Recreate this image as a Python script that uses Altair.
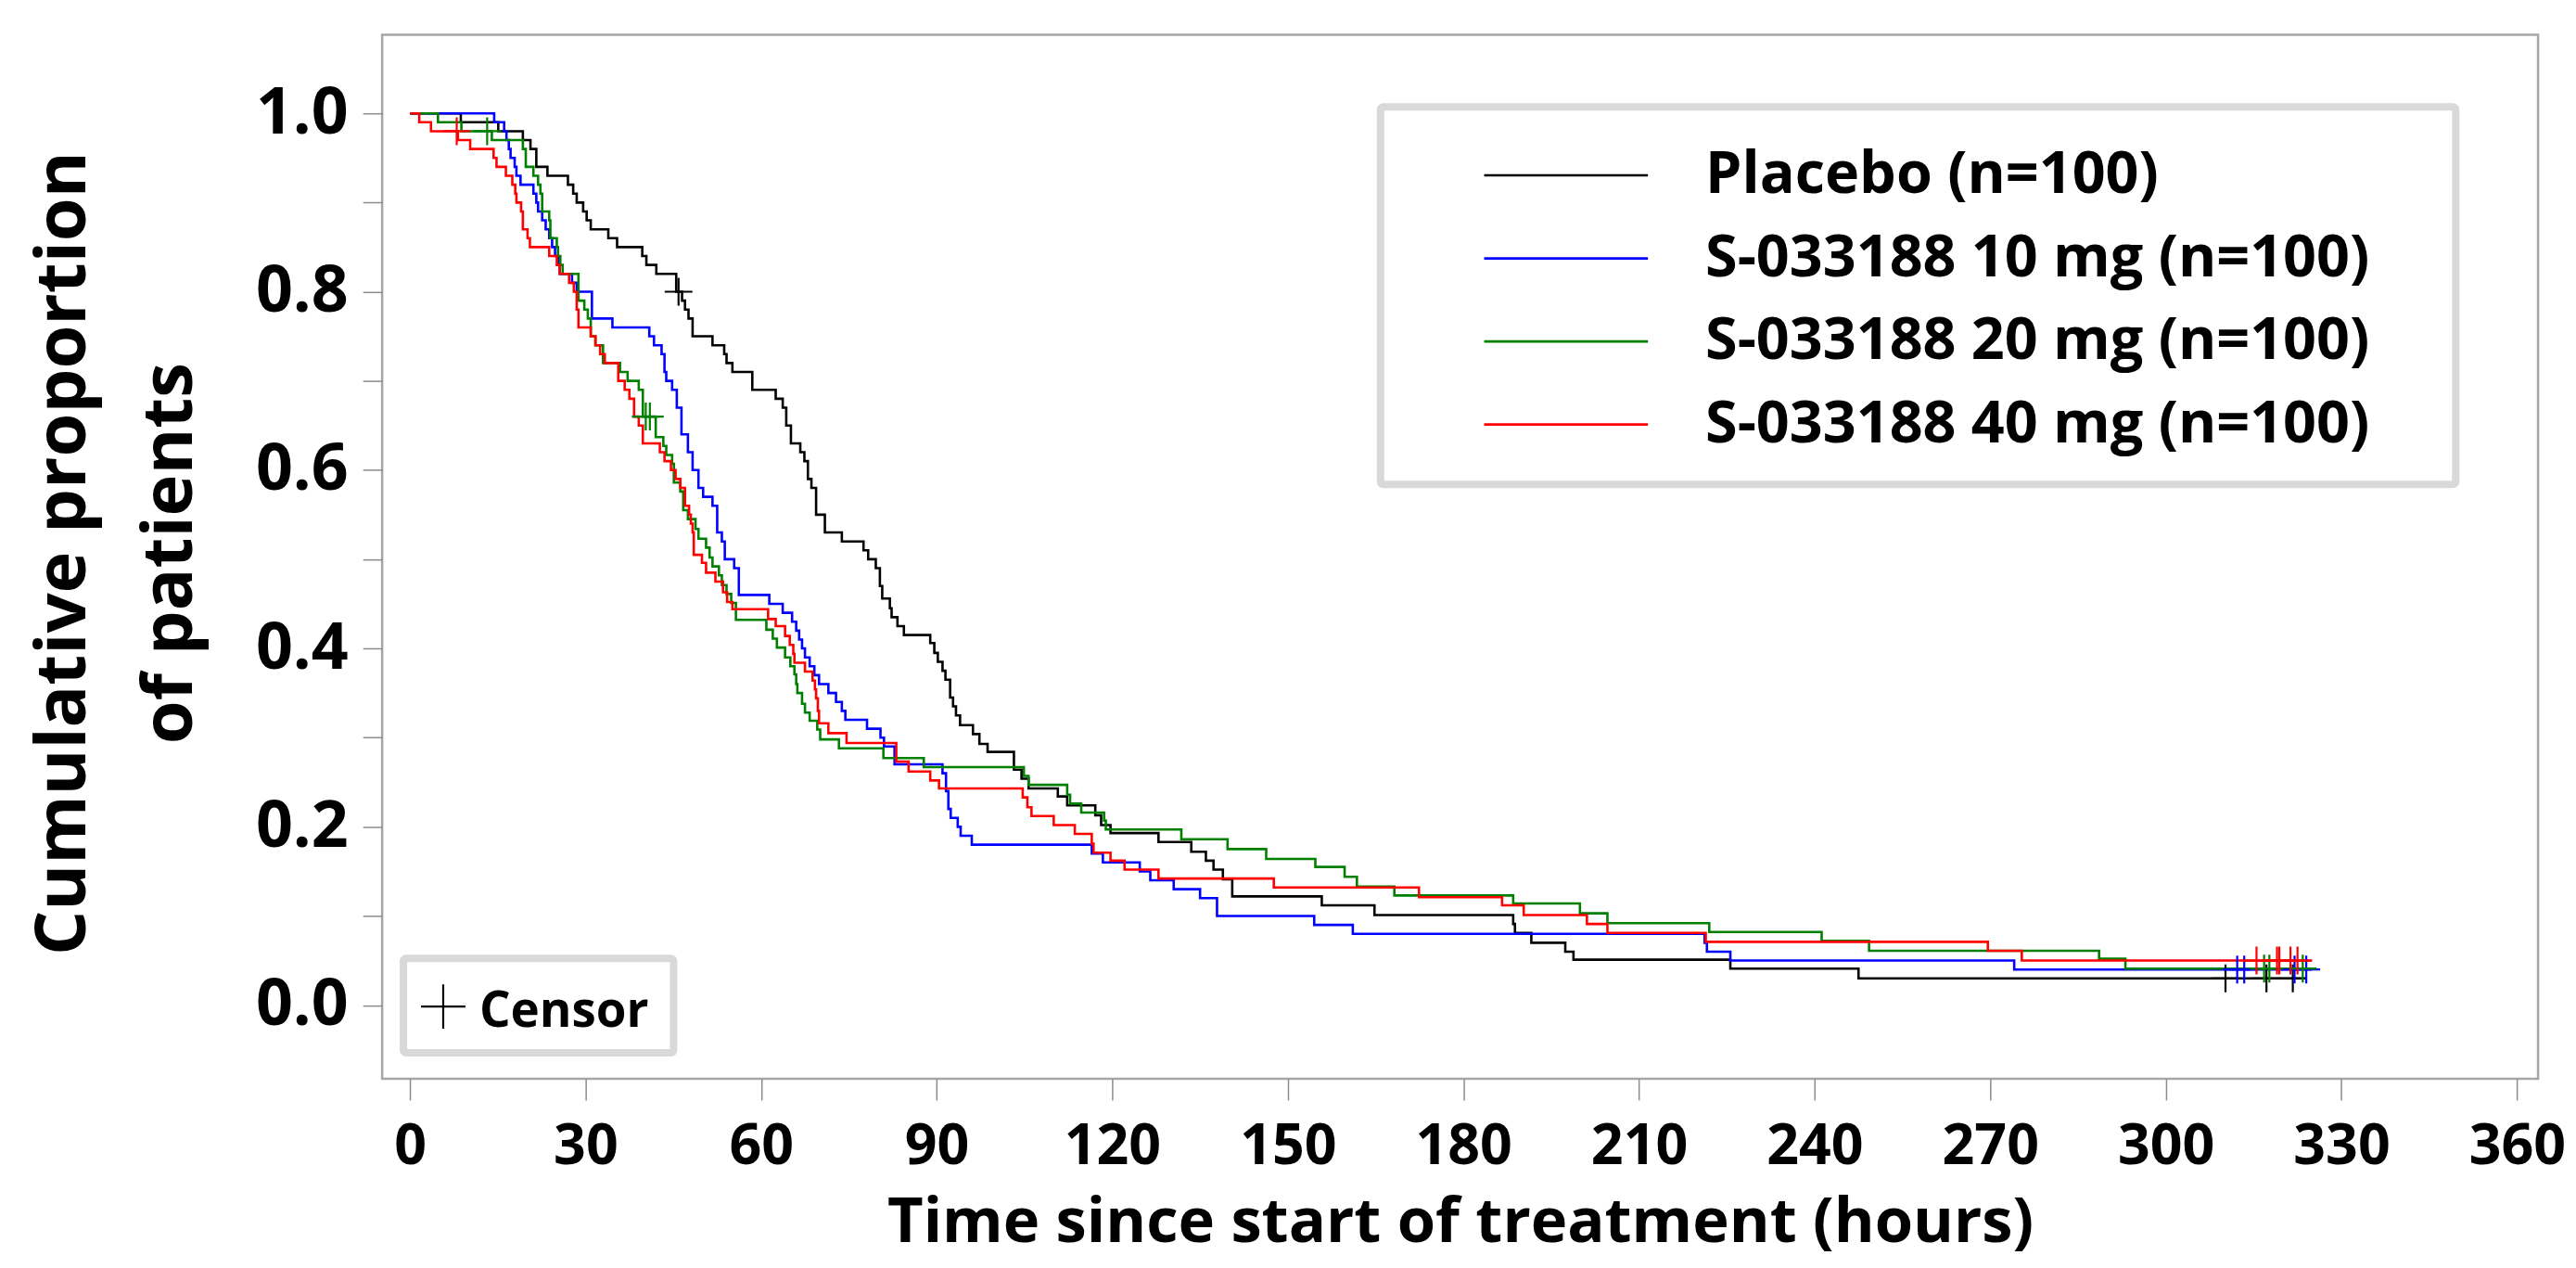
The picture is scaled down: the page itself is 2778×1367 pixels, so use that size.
import altair as alt
import pandas as pd

# ---------------- data ----------------
names = ["Placebo", "S-033188 10 mg", "S-033188 20 mg", "S-033188 40 mg"]
n_patients = [100, 100, 100, 100]
colors = ["#000000", "#0000ff", "#008000", "#ff0000"]

placebo_t = [0, 8.7, 15.1, 19.3, 20.6, 21.6, 23.5, 27.0, 27.9, 28.5, 29.6, 30.2, 30.9, 33.9, 35.4,
             39.7, 40.4, 42.1, 45.5, 46.5, 47.0, 47.6, 48.3, 51.7, 53.7, 54.1, 55.1, 58.5, 62.5,
             63.7, 64.3, 65.1, 66.7, 67.4, 68.0, 68.6, 69.4, 70.9, 73.8, 77.5, 78.3, 79.6, 80.3,
             80.7, 82.0, 82.3, 83.3, 84.4, 88.9, 89.6, 90.2, 91.0, 91.5, 92.3, 92.8, 93.3, 94.0,
             96.2, 97.3, 98.7, 103.2, 104.5, 105.7, 110.7, 112.3, 117.1, 118.1, 119.7, 127.9,
             133.5, 136.0, 137.3, 138.9, 140.5, 155.8, 164.8, 188.5, 188.8, 191.6, 197.4, 198.8,
             225.6, 247.5, 323.9]
placebo_s = [1.00, 0.99, 0.98, 0.97, 0.96, 0.94, 0.93, 0.92, 0.91, 0.90, 0.89, 0.88, 0.87, 0.86, 0.85,
             0.84, 0.83, 0.82, 0.80, 0.79, 0.78, 0.77, 0.75, 0.74, 0.73, 0.72, 0.71, 0.69, 0.68,
             0.67, 0.65, 0.63, 0.62, 0.61, 0.59, 0.58, 0.55, 0.53, 0.52, 0.51, 0.50, 0.49, 0.47,
             0.456, 0.445, 0.435, 0.425, 0.415, 0.406, 0.395, 0.385, 0.375, 0.365, 0.345, 0.335, 0.325, 0.314,
             0.304, 0.293, 0.284, 0.264, 0.254, 0.243, 0.234, 0.224, 0.213, 0.202, 0.193, 0.183,
             0.172, 0.162, 0.152, 0.141, 0.122, 0.112, 0.101, 0.091, 0.081, 0.070, 0.060, 0.051,
             0.041, 0.030, 0.030]
placebo_cens_t = [45.9, 310.2, 317.2, 321.7]
placebo_cens_s = [0.80, 0.030, 0.030, 0.030]

mg10_t = [0, 14.4, 16.1, 16.5, 16.9, 17.2, 17.9, 18.2, 18.9, 21.1, 21.6, 21.9, 22.6, 23.2, 23.8,
          24.3, 24.8, 25.3, 25.6, 27.7, 28.5, 31.1, 34.6, 40.9, 41.7, 43.0, 43.5, 43.8, 44.8,
          45.6, 46.4, 47.5, 48.3, 49.3, 50.1, 51.7, 52.5, 53.3, 53.8, 55.4, 56.2, 61.4, 63.7,
          65.3, 66.0, 66.5, 67.0, 67.5, 68.3, 69.1, 69.9, 71.5, 72.8, 73.8, 74.4, 78.1, 80.4,
          81.0, 82.8, 91.0, 91.6, 92.0, 92.4, 93.6, 94.1, 96.0, 116.5, 118.4, 124.7, 126.5,
          130.5, 135.0, 137.9, 154.5, 161.1, 221.2, 221.6, 225.6, 274.1, 325.0]
mg10_s = [1.00, 0.99, 0.98, 0.97, 0.96, 0.95, 0.94, 0.93, 0.92, 0.91, 0.90, 0.89, 0.88, 0.87, 0.86,
          0.85, 0.84, 0.83, 0.82, 0.81, 0.80, 0.77, 0.76, 0.75, 0.74, 0.73, 0.71, 0.70, 0.69,
          0.67, 0.64, 0.62, 0.60, 0.58, 0.57, 0.56, 0.53, 0.52, 0.50, 0.49, 0.46, 0.45, 0.44,
          0.43, 0.42, 0.41, 0.40, 0.39, 0.38, 0.37, 0.36, 0.35, 0.34, 0.33, 0.32, 0.31, 0.30,
          0.29, 0.27, 0.26, 0.24, 0.22, 0.21, 0.20, 0.19, 0.18, 0.17, 0.16, 0.15, 0.14,
          0.13, 0.12, 0.10, 0.09, 0.08, 0.07, 0.06, 0.05, 0.04, 0.04]
mg10_cens_t = [312.2, 313.4, 322.0, 324.0]
mg10_cens_s = [0.04, 0.04, 0.04, 0.04]

mg20_t = [0, 4.8, 8.8, 14.0, 19.3, 19.8, 21.1, 21.9, 22.3, 22.6, 23.8, 24.0, 25.1, 25.3, 25.7,
          26.1, 28.8, 29.8, 30.4, 30.9, 31.7, 33.0, 35.9, 37.2, 39.1, 39.8, 42.0, 43.3, 43.8,
          44.8, 45.1, 46.2, 46.7, 47.5, 48.8, 49.3, 50.6, 51.2, 51.7, 52.8, 53.3, 54.1, 54.9,
          55.7, 60.9, 62.0, 62.7, 64.1, 65.0, 65.7, 66.0, 66.2, 67.0, 67.5, 68.3, 69.6, 70.1,
          73.3, 80.9, 87.8, 104.9, 105.7, 112.3, 112.8, 114.7, 118.6, 118.9, 131.8, 139.7,
          146.3, 154.7, 159.7, 161.8, 168.2, 188.5, 199.9, 204.6, 222.0, 241.2, 249.3, 288.6,
          293.1, 325.7]
mg20_s = [1.00, 0.99, 0.98, 0.97, 0.96, 0.94, 0.93, 0.92, 0.91, 0.89, 0.88, 0.86, 0.85, 0.84, 0.83,
          0.82, 0.79, 0.78, 0.77, 0.75, 0.74, 0.72, 0.71, 0.70, 0.69, 0.66, 0.637, 0.627, 0.617,
          0.607, 0.586, 0.576, 0.555, 0.545, 0.534, 0.523, 0.513, 0.502, 0.492, 0.482, 0.471, 0.461, 0.451,
          0.432, 0.421, 0.411, 0.401, 0.390, 0.380, 0.371, 0.360, 0.350, 0.338, 0.328, 0.319, 0.309, 0.298,
          0.288, 0.277, 0.267, 0.257, 0.247, 0.236, 0.226, 0.216, 0.207, 0.197, 0.186, 0.175,
          0.164, 0.155, 0.144, 0.133, 0.123, 0.114, 0.103, 0.092, 0.082, 0.072, 0.061, 0.052,
          0.041, 0.041]
mg20_cens_t = [13.2, 40.3, 41.0, 316.8, 317.7, 323.4]
mg20_cens_s = [0.98, 0.66, 0.66, 0.041, 0.041, 0.041]

mg40_t = [0, 1.6, 3.6, 8.2, 10.3, 14.3, 14.8, 16.4, 17.5, 18.0, 18.2, 19.0, 19.3, 20.1, 20.5,
          23.8, 25.1, 25.6, 27.2, 28.0, 28.5, 28.8, 30.9, 31.7, 32.5, 33.3, 35.6, 36.7, 37.5,
          38.3, 39.1, 39.8, 42.7, 43.5, 44.6, 45.4, 46.2, 47.0, 47.7, 48.0, 48.3, 48.5, 49.9,
          50.6, 52.2, 53.5, 54.2, 55.1, 61.2, 62.5, 64.1, 64.9, 65.5, 65.7, 67.5, 68.8, 69.2,
          69.4, 69.7, 69.9, 71.5, 74.6, 83.1, 85.2, 88.9, 90.4, 104.7, 105.5, 106.2, 110.0,
          113.6, 116.5, 116.8, 119.7, 122.1, 127.9, 147.6, 172.4, 186.6, 190.3, 201.1, 204.6,
          221.4, 269.6, 275.4, 325.0]
mg40_s = [1.00, 0.99, 0.98, 0.97, 0.96, 0.95, 0.94, 0.93, 0.92, 0.91, 0.90, 0.89, 0.87, 0.86, 0.85,
          0.84, 0.83, 0.82, 0.81, 0.80, 0.78, 0.76, 0.75, 0.74, 0.73, 0.72, 0.70, 0.69, 0.68,
          0.66, 0.65, 0.63, 0.62, 0.61, 0.60, 0.59, 0.58, 0.56, 0.55, 0.54, 0.53, 0.505, 0.496,
          0.485, 0.475, 0.463, 0.452, 0.444, 0.433, 0.425, 0.414, 0.404, 0.394, 0.384, 0.374, 0.364, 0.354,
          0.344, 0.330, 0.316, 0.305, 0.294, 0.273, 0.262, 0.252, 0.243, 0.233, 0.222, 0.212, 0.202,
          0.192, 0.181, 0.171, 0.162, 0.152, 0.142, 0.132, 0.121, 0.112, 0.101, 0.091, 0.081,
          0.071, 0.061, 0.050, 0.050]
mg40_cens_t = [8.0, 315.5, 319.0, 319.4, 321.3, 322.5]
mg40_cens_s = [0.98, 0.05, 0.05, 0.05, 0.05, 0.05]

x_ticks = [0, 30, 60, 90, 120, 150, 180, 210, 240, 270, 300, 330, 360]
y_ticks = [0.0, 0.1, 0.2, 0.3, 0.4, 0.5, 0.6, 0.7, 0.8, 0.9, 1.0]
x_title = "Time since start of treatment (hours)"
y_title = ["Cumulative proportion", "of patients"]
censor_label = "Censor"

# ---------------- tables built from the arrays ----------------
series_t = [placebo_t, mg10_t, mg20_t, mg40_t]
series_s = [placebo_s, mg10_s, mg20_s, mg40_s]
cens_t = [placebo_cens_t, mg10_cens_t, mg20_cens_t, mg40_cens_t]
cens_s = [placebo_cens_s, mg10_cens_s, mg20_cens_s, mg40_cens_s]

curve_rows, cens_rows = [], []
for name, ts, ss in zip(names, series_t, series_s):
    curve_rows += [{"group": name, "time": t, "surv": s} for t, s in zip(ts, ss)]
for name, ts, ss in zip(names, cens_t, cens_s):
    cens_rows += [{"group": name, "time": t, "surv": s} for t, s in zip(ts, ss)]
curves = pd.DataFrame(curve_rows)
censors = pd.DataFrame(cens_rows)
one = pd.DataFrame({"k": [0]})

# ---------------- layout / style ----------------
FONT = "Open Sans"
PLUS = "M-1,0L1,0M0,-1L0,1"
W, H = 2330, 1128
x_scale = alt.Scale(domain=[-4.74, 363.6], nice=False, zero=False)
y_scale = alt.Scale(domain=[-0.0825, 1.0882], nice=False, zero=False)
color_scale = alt.Scale(domain=names, range=colors)

x_axis = alt.Axis(values=x_ticks, title=x_title, grid=False, domain=False,
                  tickSize=23, tickColor="#8c8c8c", tickWidth=1.5,
                  labelFont=FONT, labelFontSize=61, labelFontWeight="bold", labelColor="black",
                  labelBaseline="alphabetic", labelPadding=69, labelFlush=False, labelOverlap=False,
                  titleFont=FONT, titleFontSize=67, titleFontWeight="bold", titleColor="black",
                  titleBaseline="alphabetic", titleY=176)
y_axis = alt.Axis(values=y_ticks, title=y_title, grid=False, domain=False,
                  tickSize=21, tickColor="#8c8c8c", tickWidth=1.5,
                  labelExpr="round(datum.value*10) % 2 == 0 ? format(datum.value, '.1f') : ''",
                  labelFont=FONT, labelFontSize=70, labelFontWeight="bold", labelColor="black",
                  labelBaseline="middle", labelPadding=16, labelFlush=False, labelOverlap=False,
                  titleFont=FONT, titleFontSize=76, titleFontWeight="bold", titleColor="black",
                  titleAngle=270, titleAlign="center", titleBaseline="alphabetic",
                  titleX=-321, titleY=560, titleLineHeight=115)

lines = alt.Chart(curves).mark_line(interpolate="step-after", strokeWidth=2.6).encode(
    x=alt.X("time:Q", scale=x_scale, axis=x_axis),
    y=alt.Y("surv:Q", scale=y_scale, axis=y_axis),
    color=alt.Color("group:N", scale=color_scale, legend=None),
)
marks = alt.Chart(censors).mark_point(shape=PLUS, filled=False, size=900, strokeWidth=2.2, opacity=1).encode(
    x="time:Q", y="surv:Q",
    color=alt.Color("group:N", scale=color_scale, legend=None),
)

layers = [lines, marks]

# legend box (top right)
layers.append(alt.Chart(one).mark_rect(fill="white", stroke="#d9d9d9", strokeWidth=8, cornerRadius=3).encode(
    x=alt.value(1079), x2=alt.value(2241), y=alt.value(78), y2=alt.value(486)))
for i, (name, n, col) in enumerate(zip(names, n_patients, colors)):
    ry = 152 + 89.7 * i
    layers.append(alt.Chart(one).mark_rule(color=col, strokeWidth=2.6).encode(
        x=alt.value(1191), x2=alt.value(1368), y=alt.value(ry)))
    layers.append(alt.Chart(one).mark_text(align="left", baseline="middle", font=FONT, fontSize=63,
                                           fontWeight="bold", color="black").encode(
        x=alt.value(1430), y=alt.value(ry), text=alt.value(f"{name} (n={n})")))

# censor key box (bottom left)
layers.append(alt.Chart(one).mark_rect(fill="white", stroke="#d9d9d9", strokeWidth=8, cornerRadius=3).encode(
    x=alt.value(23), x2=alt.value(315), y=alt.value(998), y2=alt.value(1100)))
layers.append(alt.Chart(one).mark_point(shape=PLUS, filled=False, size=2300, strokeWidth=2.2,
                                        color="black", opacity=1).encode(
    x=alt.value(66), y=alt.value(1050)))
layers.append(alt.Chart(one).mark_text(align="left", baseline="alphabetic", font=FONT, fontSize=53,
                                       fontWeight="bold", color="black").encode(
    x=alt.value(105), y=alt.value(1072), text=alt.value(censor_label)))

chart = alt.layer(*layers).properties(
    width=W, height=H,
    autosize=alt.AutoSizeParams(type="none"),
    padding={"left": 405, "top": 28, "right": 33, "bottom": 195},
).configure_view(stroke="#a6a6a6", strokeWidth=2.5)

chart.save("out.html", embed_options={"renderer": "svg", "actions": False})
